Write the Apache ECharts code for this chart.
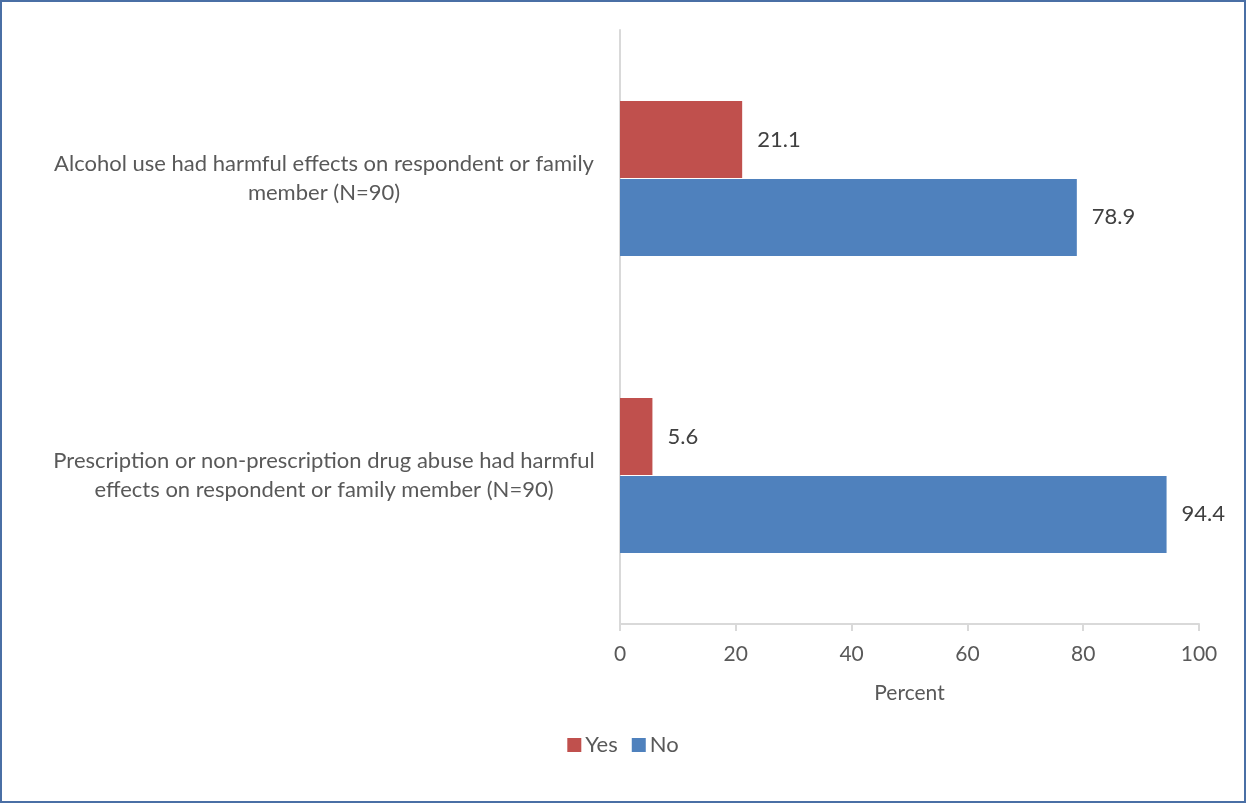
<!DOCTYPE html>
<html><head><meta charset="utf-8">
<script src="https://cdn.jsdelivr.net/npm/echarts@6/dist/echarts.min.js"></script>
<style>
html,body{margin:0;padding:0;background:#fff;}
#c{width:1246px;height:803px;box-sizing:border-box;border:2px solid #4A6FA5;}
</style></head><body>
<div id="c"></div>
<script>
var categories = [
  'Alcohol use had harmful effects on respondent or family\nmember (N=90)',
  'Prescription or non-prescription drug abuse had harmful\neffects on respondent or family member (N=90)'
];
var yesValues = [21.1, 5.6];
var noValues = [78.9, 94.4];
var xTicks = [0, 20, 40, 60, 80, 100];

var font = 'Lato, "Open Sans", sans-serif';
var chart = echarts.init(document.getElementById('c'), null, {renderer:'canvas'});
chart.setOption({
  animation:false,
  grid:{left:618, right:45, top:28, bottom:177},
  legend:{
    bottom:40, left:'center', itemWidth:14, itemHeight:14, itemGap:14,
    icon:'rect',
    textStyle:{fontFamily:font, fontSize:22, color:'#595959', padding:[0,0,0,-1]},
    data:['Yes','No']
  },
  xAxis:{
    type:'value', min:0, max:100, interval:20,
    name:'Percent', nameLocation:'middle', nameGap:59,
    nameTextStyle:{fontFamily:font, fontSize:21, color:'#595959'},
    axisLine:{show:true, lineStyle:{color:'#D9D9D9', width:2}},
    axisTick:{show:true, length:7, lineStyle:{color:'#D9D9D9', width:2}},
    axisLabel:{fontFamily:font, fontSize:21, color:'#595959', margin:20,
      formatter:function(v){return xTicks.indexOf(v)>=0? String(v):'';}},
    splitLine:{show:false}
  },
  yAxis:{
    type:'category', inverse:true, data:categories,
    axisLine:{show:true, lineStyle:{color:'#D9D9D9', width:2}},
    axisTick:{show:false},
    axisLabel:{margin:22, align:'right',
      formatter:function(v){return v.split('\n').map(function(s){return '{a|'+s+'}';}).join('\n');},
      rich:{a:{fontFamily:font, fontSize:22, color:'#595959', width:548, align:'center', lineHeight:29}}
    }
  },
  series:[
    {name:'Yes', type:'bar', data:yesValues, barWidth:77, barGap:'1%',
     itemStyle:{color:'#C0504D'},
     label:{show:true, position:'right', distance:15, fontFamily:font, fontSize:22, color:'#404040'}},
    {name:'No', type:'bar', data:noValues, barWidth:77, barGap:'1%',
     itemStyle:{color:'#4F81BD'},
     label:{show:true, position:'right', distance:15, fontFamily:font, fontSize:22, color:'#404040'}}
  ]
});
</script>
</body></html>
